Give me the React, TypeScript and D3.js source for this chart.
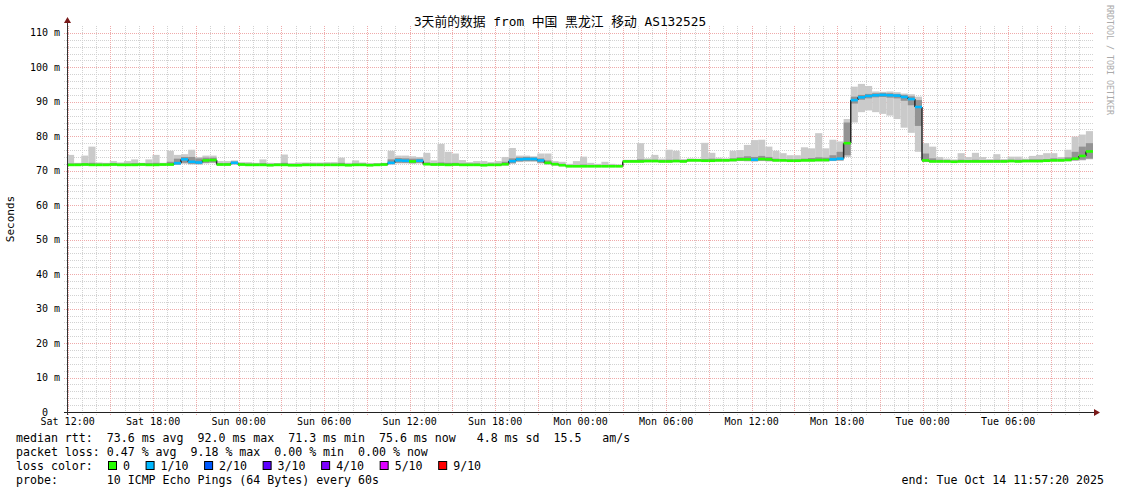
import React from "react";
import * as d3 from "d3";

// ---- data (30-minute bins, 144 bins over 72 h) ----
const START = Date.UTC(2025, 9, 11, 11, 57, 20);
const SPAN_H = 72;
const BIN_MIN = 30;

const median = [
  71.7, 71.7, 71.8, 71.7, 71.7, 71.7, 71.8, 71.7, 71.7, 71.7, 71.8, 71.7,
  71.7, 71.8, 71.8, 72.2, 73.3, 72.6, 72.4, 73.0, 73.1, 71.8, 71.8, 72.3,
  71.8, 71.7, 71.7, 71.7, 71.6, 71.7, 71.7, 71.6, 71.6, 71.7, 71.7, 71.7,
  71.7, 71.7, 71.7, 71.6, 71.7, 71.7, 71.6, 71.7, 71.8, 72.3, 73.0, 72.9,
  72.7, 72.9, 71.9, 71.8, 71.8, 71.7, 71.8, 71.7, 71.7, 71.7, 71.6, 71.7,
  71.7, 71.9, 72.8, 73.3, 73.4, 73.4, 73.0, 72.3, 71.9, 71.6, 71.3, 71.3,
  71.3, 71.3, 71.3, 71.3, 71.3, 71.3, 72.7, 72.7, 72.7, 72.8, 72.8, 72.7,
  72.7, 72.8, 72.7, 73.0, 73.0, 72.9, 72.9, 73.0, 73.0, 73.1, 73.3, 73.3,
  73.2, 73.4, 73.3, 73.0, 73.0, 72.9, 72.9, 73.0, 73.0, 73.1, 73.1, 73.3,
  73.5, 78.0, 90.5, 91.3, 91.7, 91.9, 92.0, 91.9, 91.8, 91.4, 90.8, 88.5,
  73.0, 72.7, 72.7, 72.7, 72.6, 72.7, 72.7, 72.7, 72.7, 72.7, 72.7, 72.7,
  72.8, 72.7, 72.8, 72.8, 72.8, 72.9, 73.0, 73.0, 73.1, 73.5, 74.3, 75.6,
];

const lossTenths = [
  0, 0, 0, 0, 0, 0, 0, 0, 0, 0, 0, 0,
  0, 0, 0, 1, 1, 1, 1, 0, 0, 0, 0, 1,
  0, 0, 0, 0, 0, 0, 0, 0, 0, 0, 0, 0,
  0, 0, 0, 0, 0, 0, 0, 0, 0, 1, 1, 1,
  0, 1, 0, 0, 0, 0, 0, 0, 0, 0, 0, 0,
  0, 0, 1, 1, 1, 1, 1, 0, 0, 0, 0, 0,
  0, 0, 0, 0, 0, 0, 0, 0, 0, 0, 0, 0,
  0, 0, 0, 0, 0, 0, 0, 0, 0, 0, 0, 0,
  1, 0, 0, 0, 0, 0, 0, 0, 0, 0, 0, 1,
  1, 0, 1, 1, 1, 1, 1, 1, 1, 1, 1, 1,
  0, 0, 0, 0, 0, 0, 0, 0, 0, 0, 0, 0,
  0, 0, 0, 0, 0, 0, 0, 0, 0, 0, 0, 0,
];

const smokeMax = [
  74.6, 72.3, 74.4, 77.0, 72.4, 72.3, 72.8, 72.4, 72.8, 73.3, 72.3, 73.3,
  74.6, 72.3, 75.8, 74.6, 74.8, 76.1, 74.0, 74.4, 74.4, 72.8, 72.8, 73.0,
  72.5, 72.5, 72.3, 73.3, 72.3, 72.2, 74.7, 72.2, 72.4, 72.4, 72.4, 72.4,
  72.5, 72.5, 73.8, 72.3, 73.0, 72.4, 72.2, 72.2, 72.3, 75.8, 74.4, 74.4,
  74.2, 74.0, 75.2, 73.0, 77.8, 75.5, 75.0, 73.1, 72.5, 72.8, 72.8, 72.5,
  72.8, 74.0, 76.6, 74.4, 74.4, 74.2, 75.0, 75.0, 72.8, 72.6, 72.0, 72.8,
  74.1, 72.3, 72.0, 72.6, 72.0, 71.8, 73.2, 73.2, 78.0, 73.6, 74.6, 73.5,
  76.1, 75.8, 73.4, 73.6, 73.5, 78.1, 75.2, 73.8, 73.6, 75.8, 76.0, 77.5,
  78.9, 79.0, 77.0, 75.8, 75.1, 74.5, 74.5, 76.8, 76.5, 80.9, 76.5, 79.0,
  78.5, 85.0, 94.4, 95.2, 94.6, 93.0, 92.9, 93.0, 92.8, 92.4, 92.2, 91.5,
  78.0, 77.0, 74.0, 73.5, 73.3, 75.1, 74.0, 75.2, 74.0, 73.4, 74.8, 73.4,
  74.1, 74.1, 73.5, 74.3, 74.6, 75.1, 75.1, 74.0, 76.1, 79.9, 80.5, 81.5,
];

const smokeMin = [
  71.4, 71.4, 71.5, 71.4, 71.4, 71.4, 71.5, 71.4, 71.4, 71.4, 71.5, 71.4,
  71.4, 71.5, 71.5, 71.7, 72.0, 71.8, 71.8, 72.1, 72.2, 71.5, 71.5, 71.8,
  71.5, 71.4, 71.4, 71.4, 71.3, 71.4, 71.4, 71.3, 71.3, 71.4, 71.4, 71.4,
  71.4, 71.4, 71.4, 71.3, 71.4, 71.4, 71.3, 71.4, 71.5, 71.8, 72.1, 72.1,
  72.0, 72.1, 71.6, 71.5, 71.5, 71.4, 71.5, 71.4, 71.4, 71.4, 71.3, 71.4,
  71.4, 71.5, 72.0, 72.5, 72.6, 72.6, 72.1, 71.8, 71.5, 71.3, 71.0, 71.0,
  71.0, 71.0, 71.0, 71.0, 71.0, 71.0, 72.4, 72.4, 72.4, 72.5, 72.5, 72.4,
  72.4, 72.5, 72.4, 72.7, 72.7, 72.6, 72.6, 72.7, 72.7, 72.7, 72.8, 72.7,
  72.6, 72.8, 72.7, 72.7, 72.7, 72.6, 72.6, 72.7, 72.7, 72.7, 72.7, 72.8,
  72.9, 74.0, 84.0, 87.0, 87.5, 87.0, 86.5, 86.0, 85.0, 82.5, 81.0, 75.5,
  72.5, 72.4, 72.4, 72.4, 72.3, 72.4, 72.4, 72.4, 72.4, 72.4, 72.4, 72.4,
  72.5, 72.4, 72.5, 72.5, 72.5, 72.6, 72.7, 72.7, 72.8, 72.9, 73.0, 73.3,
];

const darkHi = [
  72.1, 72.1, 72.2, 72.3, 72.1, 72.1, 72.2, 72.1, 72.1, 72.2, 72.2, 72.2,
  72.3, 72.1, 72.6, 73.5, 74.0, 74.0, 73.6, 73.8, 73.8, 72.2, 72.2, 72.7,
  72.2, 72.1, 72.1, 72.2, 72.0, 72.1, 72.3, 72.0, 72.0, 72.1, 72.1, 72.1,
  72.1, 72.1, 72.3, 72.0, 72.1, 72.1, 72.0, 72.1, 72.2, 73.3, 73.7, 73.6,
  73.5, 73.5, 72.4, 72.2, 72.4, 72.3, 72.3, 72.1, 72.1, 72.1, 72.0, 72.1,
  72.1, 72.6, 73.6, 73.9, 74.0, 73.9, 73.6, 73.0, 72.3, 72.0, 71.7, 71.7,
  71.8, 71.7, 71.7, 71.7, 71.7, 71.7, 73.1, 73.1, 73.3, 73.2, 73.2, 73.1,
  73.2, 73.2, 73.1, 73.4, 73.4, 73.4, 73.5, 73.4, 73.4, 73.6, 73.9, 74.2,
  74.0, 74.3, 74.0, 73.5, 73.4, 73.3, 73.3, 73.5, 73.7, 73.9, 73.8, 74.5,
  75.5, 84.0, 91.5, 92.0, 92.3, 92.5, 92.6, 92.5, 92.3, 92.0, 91.6, 90.5,
  75.0, 73.6, 73.2, 73.1, 73.0, 73.2, 73.1, 73.2, 73.1, 73.1, 73.2, 73.1,
  73.2, 73.2, 73.2, 73.3, 73.3, 73.4, 73.6, 73.5, 73.9, 75.5, 77.0, 78.0,
];

const darkLo = [
  71.5, 71.5, 71.6, 71.5, 71.5, 71.5, 71.6, 71.5, 71.5, 71.5, 71.6, 71.5,
  71.5, 71.6, 71.6, 71.8, 72.3, 72.0, 71.9, 72.3, 72.4, 71.6, 71.6, 71.9,
  71.6, 71.5, 71.5, 71.5, 71.4, 71.5, 71.5, 71.4, 71.4, 71.5, 71.5, 71.5,
  71.5, 71.5, 71.5, 71.4, 71.5, 71.5, 71.4, 71.5, 71.6, 71.9, 72.3, 72.3,
  72.2, 72.3, 71.7, 71.6, 71.6, 71.5, 71.6, 71.5, 71.5, 71.5, 71.4, 71.5,
  71.5, 71.6, 72.2, 72.7, 72.8, 72.8, 72.3, 71.9, 71.6, 71.4, 71.1, 71.1,
  71.1, 71.1, 71.1, 71.1, 71.1, 71.1, 72.5, 72.5, 72.5, 72.6, 72.6, 72.5,
  72.5, 72.6, 72.5, 72.8, 72.8, 72.7, 72.7, 72.8, 72.8, 72.8, 72.9, 72.9,
  72.8, 72.9, 72.8, 72.8, 72.8, 72.7, 72.7, 72.8, 72.8, 72.8, 72.8, 72.9,
  73.0, 74.5, 89.5, 90.6, 91.0, 91.3, 91.4, 91.2, 91.0, 90.3, 89.0, 83.0,
  72.6, 72.5, 72.5, 72.5, 72.4, 72.5, 72.5, 72.5, 72.5, 72.5, 72.5, 72.5,
  72.6, 72.5, 72.6, 72.6, 72.6, 72.7, 72.8, 72.8, 72.9, 73.0, 73.2, 73.5,
];

const yTicks = [10, 20, 30, 40, 50, 60, 70, 80, 90, 100, 110];

const lossLabels = ["0", "1/10", "2/10", "3/10", "4/10", "5/10", "9/10"];
const lossColors = ["#26ff00", "#00b8ff", "#0059ff", "#5e00ff", "#7e00ff", "#dd00ff", "#ff0000"];

const titleText = "3天前的数据 from 中国 黑龙江 移动 AS132525";
const statLines = [
  "median rtt:  73.6 ms avg  92.0 ms max  71.3 ms min  75.6 ms now   4.8 ms sd  15.5   am/s",
  "packet loss: 0.47 % avg  9.18 % max  0.00 % min  0.00 % now",
];
const lossLine = "loss color:";
const probeLine = "probe:       10 ICMP Echo Pings (64 Bytes) every 60s";
const endLine = "end: Tue Oct 14 11:57:20 2025";

const MONO = "'DejaVu Sans Mono', 'Noto Sans CJK SC', monospace";
const nb = (s: string) => s.replace(/ /g, "\u00a0");

export default function App() {
  const W = 1121;
  const H = 494;
  const left = 67;
  const right = 1093;
  const top = 26;
  const bottom = 412;

  const t0 = new Date(START);
  const t1 = new Date(START + SPAN_H * 3600e3);
  const x = d3.scaleUtc().domain([t0, t1]).range([left, right]);
  const y = d3.scaleLinear().domain([0, 112]).range([bottom, top]);
  const binT = (i: number) => new Date(START + i * BIN_MIN * 60e3);

  const hours = d3.utcHour.range(t0, t1);
  const minorH = d3.range(2, 112, 2).filter((v) => v % 10 !== 0);
  const fmt = d3.utcFormat("%a %H:%M");
  const labelHours = hours.filter((d) => d.getUTCHours() % 6 === 0);

  const lossColor = (l: number) => {
    if (l <= 0) return lossColors[0];
    if (l === 1) return lossColors[1];
    if (l === 2) return lossColors[2];
    if (l === 3) return lossColors[3];
    if (l === 4) return lossColors[4];
    if (l <= 8) return lossColors[5];
    return lossColors[6];
  };

  const cw = 6.98;
  const legendItems: { bx: number; tx: number; label: string; color: string }[] = [];
  let bx = 108;
  lossLabels.forEach((lab, k) => {
    const tx = bx + 15;
    legendItems.push({ bx, tx, label: lab, color: lossColors[k] });
    bx = tx + lab.length * cw + 15.6;
  });

  return (
    <svg
      width={W}
      height={H}
      viewBox={`0 0 ${W} ${H}`}
      style={{ position: "absolute", left: 0, top: 0, background: "#fff" }}
    >
      <rect x={0} y={0} width={W} height={H} fill="#ffffff" />

      {minorH.map((v) => (
        <line key={"mh" + v} x1={left - 3} x2={right} y1={Math.round(y(v)) + 0.5} y2={Math.round(y(v)) + 0.5}
          stroke="#d2d2d2" strokeDasharray="1,1" />
      ))}
      {hours.filter((d) => d.getUTCHours() % 3 !== 0).map((d) => (
        <line key={"mv" + +d} x1={Math.round(x(d)) + 0.5} x2={Math.round(x(d)) + 0.5} y1={top} y2={bottom + 3}
          stroke="#d2d2d2" strokeDasharray="1,1" />
      ))}
      {hours.filter((d) => d.getUTCHours() % 3 === 0).map((d) => (
        <line key={"Mv" + +d} x1={Math.round(x(d)) + 0.5} x2={Math.round(x(d)) + 0.5} y1={top} y2={bottom + 3}
          stroke="#efaaaa" strokeDasharray="1,1" />
      ))}
      {yTicks.map((v) => (
        <line key={"Mh" + v} x1={left - 3} x2={right} y1={Math.round(y(v)) + 0.5} y2={Math.round(y(v)) + 0.5}
          stroke="#efaaaa" strokeDasharray="1,1" />
      ))}

      {median.map((_, i) => (
        <rect key={"sl" + i} x={x(binT(i))} width={x(binT(i + 1)) - x(binT(i))}
          y={y(smokeMax[i])} height={y(smokeMin[i]) - y(smokeMax[i])} fill="#cacaca" />
      ))}
      {median.map((_, i) => (
        <rect key={"sd" + i} x={x(binT(i))} width={x(binT(i + 1)) - x(binT(i))}
          y={y(darkHi[i])} height={y(darkLo[i]) - y(darkHi[i])} fill="#939393" />
      ))}

      {median.slice(1).map((m, k) => {
        const i = k + 1;
        const xx = x(binT(i));
        return (
          <line key={"mc" + i} x1={xx} x2={xx} y1={y(median[i - 1])} y2={y(m)}
            stroke="#2a2a2a" strokeWidth={1.5} />
        );
      })}
      {median.map((m, i) => (
        <line key={"ms" + i} x1={x(binT(i))} x2={x(binT(i + 1))} y1={y(m)} y2={y(m)}
          stroke={lossColor(lossTenths[i])} strokeWidth={2.6} />
      ))}

      <line x1={left - 3} x2={right + 2} y1={bottom + 0.5} y2={bottom + 0.5} stroke="#222" />
      <line x1={left + 0.5} x2={left + 0.5} y1={bottom + 3} y2={top - 4} stroke="#333" />
      <path d={`M${right + 1},${bottom - 3} L${right + 7},${bottom + 0.5} L${right + 1},${bottom + 4} Z`} fill="#7a1a1a" />
      <path d={`M${left - 3},${top - 3} L${left + 0.5},${top - 9} L${left + 4},${top - 3} Z`} fill="#7a1a1a" />

      {yTicks.map((v) => (
        <text key={"yl" + v} x={60} y={y(v) + 3.5} textAnchor="end" fontFamily={MONO} fontSize={10} fill="#000">
          {nb(v + " m")}
        </text>
      ))}
      <text x={48} y={bottom + 3.5} textAnchor="end" fontFamily={MONO} fontSize={10} fill="#000">0</text>

      {labelHours.map((d) => (
        <text key={"xl" + +d} x={x(d)} y={425} textAnchor="middle" fontFamily={MONO} fontSize={10} fill="#000">
          {nb(fmt(d))}
        </text>
      ))}

      <text x={560} y={25.5} textAnchor="middle" fontFamily={MONO} fontSize={12.8} fill="#000">{titleText}</text>

      <text transform="translate(14,219) rotate(-90)" textAnchor="middle" fontFamily={MONO} fontSize={11} fill="#000">Seconds</text>

      <text transform="translate(1107,5) rotate(90)" fontFamily={MONO} fontSize={8.3} fill="#aaaaaa">{nb("RRDTOOL / TOBI OETIKER")}</text>

      {statLines.map((s, k) => (
        <text key={"st" + k} x={16} y={442 + k * 14} fontFamily={MONO} fontSize={11.6} fill="#000">{nb(s)}</text>
      ))}
      <text x={16} y={470} fontFamily={MONO} fontSize={11.6} fill="#000">{nb(lossLine)}</text>
      {legendItems.map((it) => (
        <g key={"lg" + it.label}>
          <rect x={it.bx + 0.5} y={461.5} width={8} height={8} fill={it.color} stroke="#000" />
          <text x={it.tx} y={470} fontFamily={MONO} fontSize={11.6} fill="#000">{it.label}</text>
        </g>
      ))}
      <text x={16} y={484} fontFamily={MONO} fontSize={11.6} fill="#000">{nb(probeLine)}</text>
      <text x={1104} y={484} textAnchor="end" fontFamily={MONO} fontSize={11.6} fill="#000">{nb(endLine)}</text>
    </svg>
  );
}
